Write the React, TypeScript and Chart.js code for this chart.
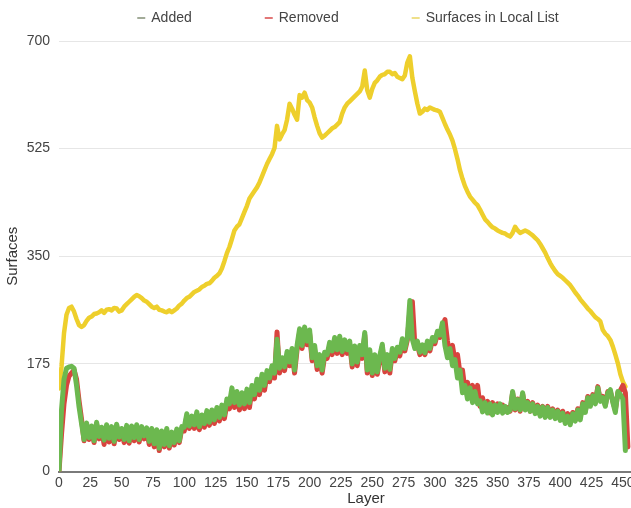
import React, { useEffect, useRef } from "react";
import { Chart, registerables } from "chart.js";

Chart.register(...registerables);

// Layers are sampled every LAYER_STEP layers, starting at layer 0.
const LAYER_STEP = 2;

const seriesNames = ["Added", "Removed", "Surfaces in Local List"];

// Added (green) — layers 0..452
const addedValues = [
  0, 100, 150, 168, 170, 171, 168, 140, 105, 78,
  52, 79, 55, 74, 50, 80, 57, 72, 51, 76,
  54, 73, 49, 77, 56, 70, 52, 75, 50, 74,
  55, 76, 52, 73, 58, 71, 49, 70, 45, 68,
  38, 66, 44, 70, 42, 64, 47, 69, 50, 73,
  72, 94, 74, 90, 76, 97, 73, 92, 78, 99,
  80, 100, 84, 104, 88, 108, 92, 118, 110, 136,
  112, 130, 108, 128, 110, 134, 112, 140, 125, 150,
  132, 158, 140, 164, 152, 172, 160, 215, 168, 185,
  170, 195, 178, 200, 165, 205, 232, 205, 235, 212,
  230, 185, 205, 172, 190, 165, 194, 190, 210, 196,
  218, 198, 220, 195, 214, 198, 212, 175, 204, 178,
  205, 190, 226, 165, 198, 160, 190, 162, 188, 207,
  168, 190, 166, 200, 184, 202, 194, 216, 200, 218,
  278, 215, 200, 212, 194, 206, 193, 212, 200, 218,
  212, 228, 222, 242, 205, 185, 200, 172, 182, 152,
  165, 128, 140, 118, 136, 112, 130, 110, 115, 97,
  112, 95, 110, 92, 108, 96, 110, 95, 106, 96,
  100, 130, 102, 117, 100, 128, 100, 112, 98, 110,
  94, 106, 90, 105, 88, 104, 88, 100, 86, 98,
  83, 95, 78, 90, 76, 94, 82, 100, 84, 110,
  96, 120, 106, 123, 110, 136, 114, 120, 106, 128,
  133, 112, 96, 130, 125, 118, 34,
];

// Removed (red) — layers 0..454
const removedValues = [
  0, 60, 110, 140, 155, 160, 165, 150, 115, 85,
  50, 76, 52, 70, 47, 77, 53, 70, 44, 73,
  48, 70, 45, 74, 52, 68, 47, 72, 46, 71,
  50, 72, 48, 70, 53, 68, 44, 66, 40, 64,
  34, 62, 40, 66, 38, 60, 43, 66, 47, 70,
  66, 90, 70, 86, 70, 93, 68, 88, 72, 95,
  75, 96, 78, 100, 82, 104, 86, 110, 102, 130,
  104, 124, 100, 122, 102, 128, 104, 134, 118, 144,
  125, 152, 132, 158, 146, 166, 152, 227, 160, 180,
  164, 188, 172, 196, 160, 198, 226, 200, 230, 206,
  224, 180, 198, 166, 184, 160, 188, 184, 204, 190,
  212, 192, 214, 190, 208, 192, 206, 170, 198, 172,
  200, 184, 222, 160, 192, 156, 185, 158, 182, 203,
  162, 186, 160, 194, 180, 197, 188, 210, 196, 214,
  262, 276, 205, 206, 190, 202, 190, 207, 196, 214,
  208, 224, 218, 236, 247, 212, 190, 205, 180, 190,
  160, 165, 132, 145, 125, 140, 118, 140, 106, 120,
  100, 114, 95, 112, 98, 110, 100, 108, 98, 104,
  98, 128, 100, 118, 98, 126, 102, 114, 98, 112,
  96, 108, 92, 106, 90, 106, 90, 102, 88, 100,
  86, 98, 82, 94, 80, 96, 84, 102, 88, 112,
  98, 122, 108, 125, 112, 138, 116, 122, 108, 130,
  130, 114, 100, 128, 132, 140, 128, 40,
];

// Surfaces in Local List (yellow) — layers 0..452
const surfacesValues = [
  135, 170, 225, 255, 266, 268, 260, 248, 238, 235,
  238, 245, 250, 252, 256, 257, 259, 262, 258, 263,
  264, 262, 266, 265, 260, 262, 268, 272, 276, 280,
  284, 287, 285, 282, 278, 276, 272, 268, 266, 268,
  263, 262, 260, 259, 262, 259, 262, 265, 270, 273,
  278, 282, 284, 288, 292, 294, 296, 300, 302, 305,
  306, 310, 315, 318, 322, 330, 342, 355, 365, 378,
  392, 398, 402, 412, 422, 432, 444, 450, 456, 462,
  470, 480, 490, 500, 508, 516, 526, 562, 540, 548,
  555, 572, 598, 590, 580, 572, 612, 608, 616, 604,
  600, 592, 576, 562, 550, 543, 546, 550, 554, 558,
  560, 564, 568, 582, 592, 598, 602, 606, 610, 614,
  618, 626, 652, 620, 608, 622, 632, 636, 642, 645,
  646, 650, 650, 646, 648, 642, 640, 638, 644, 665,
  675, 640, 618, 598, 582, 585, 590, 588, 592, 590,
  588, 587, 585, 575, 565, 556, 548, 538, 524, 508,
  490, 476, 464, 455, 447, 442, 437, 433, 426, 418,
  410, 406, 401, 397, 395, 392, 390, 388, 387, 384,
  382, 388, 398, 392, 388, 390, 392, 390, 387, 384,
  380, 376, 370, 363, 356, 347, 339, 332, 326, 321,
  318, 315, 311, 307, 303, 297, 291, 286, 280, 275,
  270, 265, 261, 256, 251, 248, 244, 230, 224, 220,
  214, 203, 190, 176, 158, 146, 138,
];

const seriesColors = ["#6cb84f", "#d8443e", "#eecf2c"];
const legendMarkerColors = ["#a2ab98", "#e27777", "#efe08a"];

const X_MAX = 490;
const X_TICK_STEP = 25;
const Y_MAX = 700;
const Y_TICK_STEP = 175;

const FONT_FAMILY = '"Liberation Sans", Arial, Helvetica, sans-serif';
const LEGEND_CENTER_X = 348;
const LEGEND_Y = 18;

const toPoints = (vals: number[]) =>
  vals.map((v, i) => ({ x: i * LAYER_STEP, y: v }));

const legendPlugin = {
  id: "topLegend",
  afterDraw(chart: any) {
    const ctx = chart.ctx as CanvasRenderingContext2D;
    ctx.save();
    ctx.font = `14px ${FONT_FAMILY}`;
    ctx.textBaseline = "middle";
    ctx.textAlign = "left";
    const markerW = 8;
    const markerGap = 6;
    const itemGap = 73;
    const widths = seriesNames.map(
      (n) => markerW + markerGap + ctx.measureText(n).width
    );
    const total =
      widths.reduce((a, b) => a + b, 0) + itemGap * (widths.length - 1);
    let x = LEGEND_CENTER_X - total / 2;
    seriesNames.forEach((n, i) => {
      ctx.strokeStyle = legendMarkerColors[i];
      ctx.lineWidth = 2;
      ctx.beginPath();
      ctx.moveTo(x, LEGEND_Y);
      ctx.lineTo(x + markerW, LEGEND_Y);
      ctx.stroke();
      ctx.fillStyle = "#444";
      ctx.fillText(n, x + markerW + markerGap, LEGEND_Y);
      x += widths[i] + itemGap;
    });
    ctx.restore();
  },
};

export default function App() {
  const canvasRef = useRef<HTMLCanvasElement | null>(null);

  useEffect(() => {
    if (!canvasRef.current) return;
    const chart = new Chart(canvasRef.current, {
      type: "line",
      data: {
        datasets: [
          {
            label: seriesNames[0],
            data: toPoints(addedValues),
            borderColor: seriesColors[0],
            backgroundColor: seriesColors[0],
            borderWidth: 5,
          },
          {
            label: seriesNames[1],
            data: toPoints(removedValues),
            borderColor: seriesColors[1],
            backgroundColor: seriesColors[1],
            borderWidth: 5,
          },
          {
            label: seriesNames[2],
            data: toPoints(surfacesValues),
            borderColor: seriesColors[2],
            backgroundColor: seriesColors[2],
            borderWidth: 4.5,
          },
        ],
      },
      options: {
        animation: false,
        responsive: false,
        events: [],
        layout: { padding: { top: 41, left: 0, right: 0, bottom: 0 } },
        elements: {
          point: { radius: 0 },
          line: { tension: 0, borderJoinStyle: "round", borderCapStyle: "round" },
        },
        plugins: {
          legend: { display: false },
          tooltip: { enabled: false },
        },
        scales: {
          x: {
            type: "linear",
            min: 0,
            max: X_MAX,
            afterFit: (scale: any) => {
              scale.height = 36.5;
            },
            grid: { display: false, drawTicks: false },
            border: { display: true, color: "#7a7a7a", width: 2 },
            ticks: {
              stepSize: X_TICK_STEP,
              includeBounds: false,
              autoSkip: false,
              maxRotation: 0,
              padding: 3,
              color: "#444",
              font: { size: 14, family: FONT_FAMILY },
            },
            title: {
              display: true,
              text: "Layer",
              color: "#333",
              font: { size: 15, family: FONT_FAMILY },
              padding: { top: 0, bottom: 0 },
            },
          },
          y: {
            type: "linear",
            min: 0,
            max: Y_MAX,
            afterFit: (scale: any) => {
              scale.width = 59;
            },
            grid: { color: "#e6e6e6", drawTicks: false, lineWidth: 1 },
            border: { display: false },
            ticks: {
              stepSize: Y_TICK_STEP,
              padding: 9,
              color: "#444",
              font: { size: 14, family: FONT_FAMILY },
            },
            title: {
              display: true,
              text: "Surfaces",
              color: "#333",
              font: { size: 15, family: FONT_FAMILY },
              padding: { top: 4, bottom: 4 },
            },
          },
        },
      },
      plugins: [legendPlugin],
    });
    return () => chart.destroy();
  }, []);

  return (
    <div
      style={{
        position: "fixed",
        left: 0,
        top: 0,
        width: 631,
        height: 508,
        overflow: "hidden",
        background: "#fff",
      }}
    >
      <canvas
        ref={canvasRef}
        width={673}
        height={508}
        style={{ display: "block", width: 673, height: 508 }}
      />
    </div>
  );
}
